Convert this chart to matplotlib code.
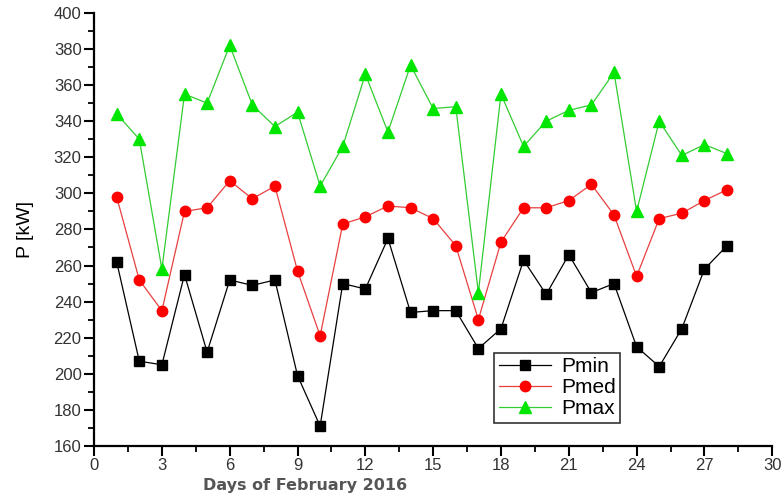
import matplotlib
matplotlib.use("Agg")
import matplotlib.pyplot as plt
from matplotlib.ticker import MultipleLocator

days = list(range(1, 29))
p_min = [262, 207, 205, 255, 212, 252, 249, 252, 199, 171, 250, 247, 275, 234,
         235, 235, 214, 225, 263, 244, 266, 245, 250, 215, 204, 225, 258, 271]
p_med = [298, 252, 235, 290, 292, 307, 297, 304, 257, 221, 283, 287, 293, 292,
         286, 271, 230, 273, 292, 292, 296, 305, 288, 254, 286, 289, 296, 302]
p_max = [344, 330, 258, 355, 350, 382, 349, 337, 345, 304, 326, 366, 334, 371,
         347, 348, 245, 355, 326, 340, 346, 349, 367, 290, 340, 321, 327, 322]

plt.rcParams['font.family'] = ['Liberation Sans', 'DejaVu Sans']

fig = plt.figure(figsize=(7.84, 4.95), dpi=100)
ax = fig.add_axes([0.12, 0.099, 0.865, 0.875])

ax.plot(days, p_min, color="black", lw=0.9, marker="s", ms=7, label="Pmin")
ax.plot(days, p_med, color="#e8403f", lw=0.9, marker="o", ms=7.5,
        mfc="#ff0000", mec="#ff0000", label="Pmed")
ax.plot(days, p_max, color="#33cc33", lw=0.9, marker="^", ms=8,
        mfc="#00e600", mec="#00e600", label="Pmax")

ax.set_xlim(0, 30)
ax.set_ylim(160, 400)
ax.xaxis.set_major_locator(MultipleLocator(3))
ax.xaxis.set_minor_locator(MultipleLocator(1.5))
ax.yaxis.set_major_locator(MultipleLocator(20))
ax.yaxis.set_minor_locator(MultipleLocator(10))

for s in ["top", "right"]:
    ax.spines[s].set_visible(False)
for s in ["left", "bottom"]:
    ax.spines[s].set_linewidth(1.6)
ax.tick_params(which="major", direction="out", length=7, width=1.5, labelsize=12,
               pad=2, labelcolor="#333333")
ax.tick_params(which="minor", direction="out", length=4, width=1.3)

ax.set_ylabel("P [kW]", fontsize=14, labelpad=14)
ax.set_xlabel("Days of February 2016", fontsize=11.5, fontweight="bold",
              color="#555555", family=["DejaVu Sans"])
ax.xaxis.set_label_coords(0.311, -0.075)

leg = ax.legend(loc="lower left", bbox_to_anchor=(0.575, 0.03), fontsize=15,
                frameon=True, fancybox=False, edgecolor="black",
                handlelength=2.5, borderpad=0.2, labelspacing=0.1,
                handletextpad=0.5)
leg.get_frame().set_linewidth(1.2)

fig.savefig("out.png", dpi=100)
